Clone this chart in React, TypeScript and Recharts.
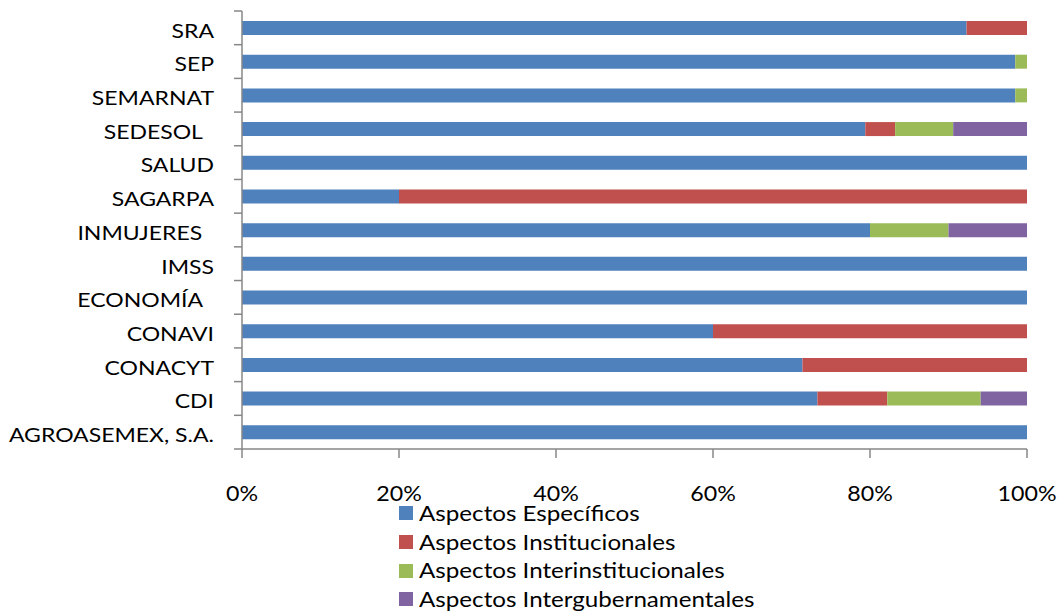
import React from 'react';
import { BarChart, Bar, XAxis, YAxis, Legend } from 'recharts';

const categories = ['SRA', 'SEP', 'SEMARNAT', 'SEDESOL  ', 'SALUD', 'SAGARPA', 'INMUJERES  ', 'IMSS', 'ECONOMÍA  ', 'CONAVI', 'CONACYT', 'CDI', 'AGROASEMEX, S.A.'];
const especificos = [92.3, 98.5, 98.5, 79.4, 100, 20, 80, 100, 100, 60, 71.4, 73.3, 100];
const institucionales = [7.7, 0, 0, 3.8, 0, 80, 0, 0, 0, 40, 28.6, 8.9, 0];
const interinstitucionales = [0, 1.5, 1.5, 7.4, 0, 0, 10, 0, 0, 0, 0, 11.9, 0];
const intergubernamentales = [0, 0, 0, 9.4, 0, 0, 10, 0, 0, 0, 0, 5.9, 0];
const xTicks = [0, 0.2, 0.4, 0.6, 0.8, 1];

const seriesNames = ['Aspectos Específicos', 'Aspectos Institucionales', 'Aspectos Interinstitucionales', 'Aspectos Intergubernamentales'];
const seriesKeys = ['esp', 'ins', 'inter', 'gub'];
const seriesColors = ['#4F81BD', '#C0504D', '#9BBB59', '#8064A2'];

const data = categories.map((c, i) => ({
  name: c,
  esp: especificos[i],
  ins: institucionales[i],
  inter: interinstitucionales[i],
  gub: intergubernamentales[i],
}));

const FONT = 'Lato, "Open Sans", sans-serif';
const AXIS_COLOR = '#878787';
const Y_TICK_SIZE = 8;
const Y_TICK_MARGIN = 20;

const YTick = (props: any) => {
  const { x, y, payload, index } = props;
  const axisX = x + Y_TICK_SIZE + Y_TICK_MARGIN;
  const half = payload && typeof payload.offset === 'number' && payload.offset > 0 ? payload.offset : 16.85;
  return (
    <g>
      <line x1={axisX - Y_TICK_SIZE} x2={axisX} y1={y - half} y2={y - half} stroke={AXIS_COLOR} strokeWidth={1.5} />
      {index === categories.length - 1 ? (
        <line x1={axisX - Y_TICK_SIZE} x2={axisX} y1={y + half} y2={y + half} stroke={AXIS_COLOR} strokeWidth={1.5} />
      ) : null}
      <text
        transform={`translate(${x},${y + 3}) scale(1.18,1)`}
        x={0}
        y={0}
        dy="0.35em"
        textAnchor="end"
        fill="#000"
        fontSize={19.5}
        fontFamily={FONT}
        style={{ whiteSpace: 'pre' }}
      >
        {payload.value}
      </text>
    </g>
  );
};

const XTick = (props: any) => {
  const { x, y, payload, tickFormatter } = props;
  const label = tickFormatter ? tickFormatter(payload.value) : String(payload.value);
  return (
    <text
      transform={`translate(${x},${y}) scale(1.08,1)`}
      x={0}
      y={0}
      dy="0.71em"
      textAnchor="middle"
      fill="#000"
      fontSize={21.5}
      fontFamily={FONT}
    >
      {label}
    </text>
  );
};

const LegendContent = () => (
  <div style={{ fontFamily: FONT, fontSize: 21, color: '#000' }}>
    {seriesNames.map((n, i) => (
      <div key={n} style={{ display: 'flex', alignItems: 'center', height: 28.7 }}>
        <span style={{ display: 'inline-block', width: 14, height: 14, background: seriesColors[i], marginRight: 6, flex: 'none' }} />
        <span
          style={{
            lineHeight: '28.7px',
            whiteSpace: 'nowrap',
            display: 'inline-block',
            transform: 'scaleX(1.15)',
            transformOrigin: 'left center',
          }}
        >
          {n}
        </span>
      </div>
    ))}
  </div>
);

export default function App() {
  return (
    <div style={{ position: 'absolute', left: 0, top: 0, width: 1062, height: 614, background: '#fff' }}>
      <BarChart
        width={1062}
        height={614}
        data={data}
        layout="vertical"
        stackOffset="expand"
        barSize={14}
        margin={{ top: 11, right: 35, left: 0, bottom: 105 }}
      >
        <XAxis
          type="number"
          domain={[0, 1]}
          ticks={xTicks}
          tickFormatter={(v: number) => `${Math.round(v * 100)}%`}
          height={60}
          tickSize={9}
          tickMargin={28}
          axisLine={{ stroke: AXIS_COLOR, strokeWidth: 1.5 }}
          tickLine={{ stroke: AXIS_COLOR, strokeWidth: 1.5 }}
          tick={<XTick />}
          interval={0}
        />
        <YAxis
          type="category"
          dataKey="name"
          width={242}
          tickLine={false}
          tickSize={Y_TICK_SIZE}
          tickMargin={Y_TICK_MARGIN}
          axisLine={{ stroke: AXIS_COLOR, strokeWidth: 1.5 }}
          tick={<YTick />}
          interval={0}
        />
        <Legend
          layout="vertical"
          align="center"
          verticalAlign="middle"
          content={<LegendContent />}
          wrapperStyle={{ left: 399, top: 499, width: 420, height: 115 }}
        />
        {seriesKeys.map((k, i) => (
          <Bar key={k} dataKey={k} name={seriesNames[i]} stackId="a" fill={seriesColors[i]} isAnimationActive={false} />
        ))}
      </BarChart>
    </div>
  );
}
